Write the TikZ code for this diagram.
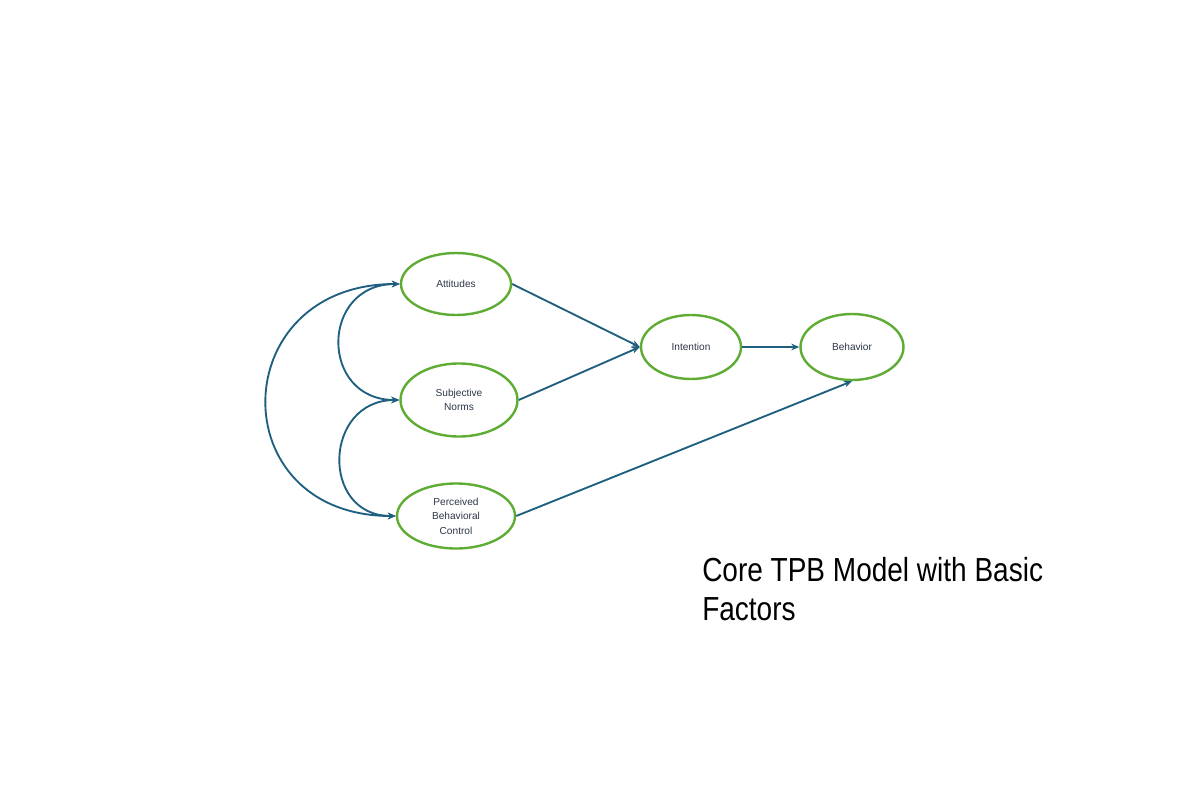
\documentclass[tikz,border=0pt]{standalone}
\usepackage{fontspec}
\setmainfont{Liberation Sans}
\newfontfamily\titlefont[FakeStretch=0.84]{Liberation Sans}
\usetikzlibrary{shapes.geometric,arrows.meta}
\definecolor{linkblue}{RGB}{31,95,128}
\definecolor{ringgreen}{RGB}{95,172,52}
\definecolor{labeltext}{RGB}{45,55,72}
\tikzset{
  factor/.style={ellipse, draw=ringgreen, line width=1.8pt, fill=white, inner sep=0pt,
    text=labeltext, font=\fontsize{7.6}{10.9}\selectfont, align=center},
  link/.style={draw=linkblue, line width=1.4pt, -{Stealth[length=6pt,width=5pt]}},
  duallink/.style={draw=linkblue, line width=1.4pt, {Stealth[length=6pt,width=5pt]}-{Stealth[length=6pt,width=5pt]}},
}
\begin{document}
\begin{tikzpicture}[x=0.75pt,y=-0.75pt]
\useasboundingbox (0,0) rectangle (1200,800);
\node[factor, minimum width=82.5pt, minimum height=46.5pt] (att) at (456,284) {Attitudes};
\node[factor, minimum width=87.75pt, minimum height=54.75pt] (sn) at (459,400) {Subjective\\Norms};
\node[factor, minimum width=88.5pt, minimum height=48.75pt] (pbc) at (456,516) {Perceived\\Behavioral\\Control};
\node[factor, minimum width=75pt, minimum height=48pt] (int) at (691,347) {Intention};
\node[factor, minimum width=77.25pt, minimum height=49.5pt] (beh) at (852,347) {Behavior};

\draw[link] (att.east) -- (int.west);
\draw[link] (sn.east) -- (int.west);
\draw[link] (int.east) -- (beh.west);
\draw[link] (pbc.east) -- (beh.south);

\draw[duallink] (att.west) .. controls +(-80,0) and +(-80,0) .. (sn.west);
\draw[duallink] (sn.west) .. controls +(-76,0) and +(-76,0) .. (pbc.west);
\draw[duallink] (att.west) .. controls +(-175,0) and +(-175,0) .. (pbc.west);

\node[anchor=north west, inner sep=0pt, align=left, font=\titlefont\fontsize{25}{29.5}\selectfont, text=black] (title) at (702,557) {Core TPB Model with Basic\\Factors};
\end{tikzpicture}
\end{document}
